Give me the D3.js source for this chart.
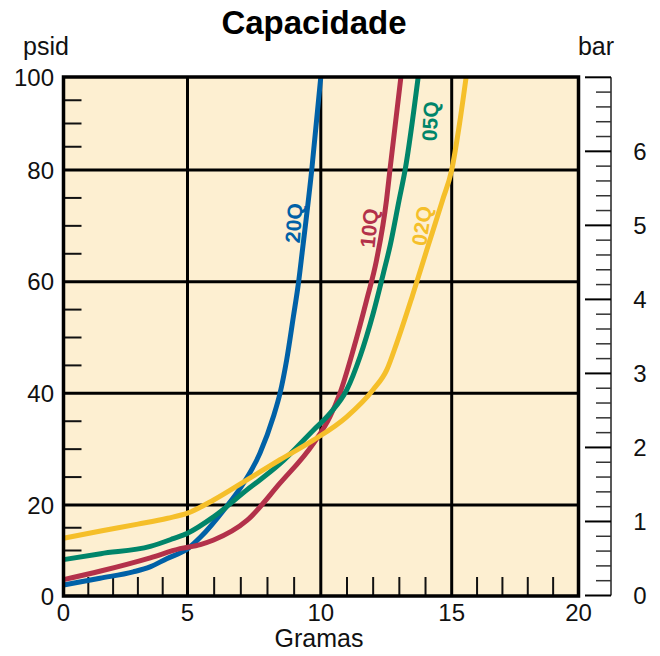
<!DOCTYPE html>
<html>
<head>
<meta charset="utf-8">
<script src="https://cdn.jsdelivr.net/npm/d3@7"></script>
<style>
  html, body { margin: 0; padding: 0; background: #ffffff; }
  svg { display: block; font-family: "Liberation Sans", Arial, Helvetica, sans-serif; }
</style>
</head>
<body>
<svg id="chart" width="660" height="656"></svg>
<script>
// ---- data (grams vs psid) ----
const title = "Capacidade";
const xLabel = "Gramas";
const yLabelLeft = "psid";
const yLabelRight = "bar";

const xTicksMajor = [0, 5, 10, 15, 20];
const xTicksMinor = [1, 2, 3, 4, 6, 7, 8, 9, 11, 12, 13, 14, 16, 17, 18, 19];
const yTicksMajor = [0, 20, 40, 60, 80, 100];
const yTicksMinor = [10, 15, 25, 30, 35, 45, 50, 55, 65, 70, 75, 85, 90, 95];
const barTicksMajor = [0, 1, 2, 3, 4, 5, 6, 7];
const barTickLabels = [0, 1, 2, 3, 4, 5, 6];

const series20Q = [[0,2.4],[1.47,3.9],[2.81,5.3],[3.49,6.4],[4.16,8.2],[5.03,10.5],[5.5,13.0],[6.4,19.2],[7.1,23.9],[7.72,29.3],[8.22,35.8],[8.47,40],[8.72,46],[8.97,53.7],[9.16,59.7],[9.3,65.2],[9.66,80],[10.0,100]];
const series10Q = [[0,3.6],[1.5,5.5],[3.5,8.4],[4.7,10.4],[5.48,11.3],[5.98,12.3],[7.23,16.6],[8.47,23.9],[9.72,31.0],[10.35,35.8],[10.73,40],[11.24,47.8],[11.75,56.7],[12.13,63.9],[12.51,74.6],[12.64,80],[13.06,100]];
const series05Q = [[0,8.0],[1.5,9.3],[3.5,10.9],[4.42,12.6],[5,13.8],[5.98,17.4],[7.23,22.7],[8.47,27.4],[9.72,33.4],[10.35,36.4],[10.99,40.6],[11.5,46.6],[12.0,54.3],[12.39,61.5],[12.65,66.5],[12.99,74.6],[13.22,80],[13.72,100]];
const series02Q = [[0,12.7],[1.5,14.3],[3,15.8],[4.2,17.1],[5,18.2],[5.98,20.9],[7.23,24.5],[8.47,28.1],[9.72,31.6],[10.99,35.8],[11.99,40.6],[12.52,44.2],[12.9,49.0],[13.5,57.5],[14.05,65.7],[14.65,74.6],[15.0,80],[15.31,90],[15.57,100]];

const seriesNames = ["20Q", "10Q", "05Q", "02Q"];
const seriesData = [series20Q, series10Q, series05Q, series02Q];
const seriesColors = ["#0061a7", "#b3314a", "#00856a", "#f5bf2a"];
// label anchor in data units (grams, psid) and rotation
const labelX = [8.98, 11.84, 14.17, 13.85];
const labelY = [70.5, 69.6, 90.5, 70.0];
const labelAngle = [-86, -84, -87, -81];

// ---- scales ----
const x = d3.scaleLinear().domain([0, 5, 10, 15, 20]).range([63.5, 187.5, 320.8, 451.7, 578.5]);
const y = d3.scaleLinear().domain([0, 20, 40, 60, 80, 100]).range([596, 505, 393.3, 281.7, 170, 77]);
const yBar = d3.scaleLinear().domain([0, 7]).range([595.5, 77.3]);

const svg = d3.select("#chart");

// background
svg.append("rect")
  .attr("x", x(0)).attr("y", y(100))
  .attr("width", x(20) - x(0)).attr("height", y(0) - y(100))
  .attr("fill", "#fdefd1");

// grid
const grid = svg.append("g").attr("stroke", "#000").attr("stroke-width", 3);
grid.selectAll("line.vx").data(xTicksMajor.slice(1, -1)).join("line")
  .attr("x1", d => x(d)).attr("x2", d => x(d)).attr("y1", y(0)).attr("y2", y(100));
grid.selectAll("line.hy").data(yTicksMajor.slice(1, -1)).join("line")
  .attr("class", "hy")
  .attr("x1", x(0)).attr("x2", x(20)).attr("y1", d => y(d)).attr("y2", d => y(d));

// minor ticks inside
const minor = svg.append("g").attr("stroke", "#111").attr("stroke-width", 2);
minor.selectAll("line.mx").data(xTicksMinor).join("line")
  .attr("x1", d => x(d)).attr("x2", d => x(d)).attr("y1", y(0)).attr("y2", y(0) - 19);
minor.selectAll("line.my").data(yTicksMinor).join("line")
  .attr("class", "my")
  .attr("x1", x(0)).attr("x2", x(0) + 18).attr("y1", d => y(d)).attr("y2", d => y(d));

// curves
const line = d3.line().x(d => x(d[0])).y(d => y(d[1])).curve(d3.curveMonotoneX);
svg.append("g").selectAll("path").data(seriesData).join("path")
  .attr("d", d => line(d))
  .attr("fill", "none")
  .attr("stroke", (d, i) => seriesColors[i])
  .attr("stroke-width", 5)
  .attr("stroke-linejoin", "round");

// curve labels
svg.append("g").selectAll("text").data(seriesNames).join("text")
  .attr("transform", (d, i) => `translate(${x(labelX[i])},${y(labelY[i])}) rotate(${labelAngle[i]})`)
  .attr("text-anchor", "middle")
  .attr("dy", "0.36em")
  .attr("font-weight", "bold")
  .attr("font-size", 21)
  .attr("fill", (d, i) => seriesColors[i])
  .text(d => d);

// plot border
svg.append("rect")
  .attr("x", x(0)).attr("y", y(100))
  .attr("width", x(20) - x(0)).attr("height", y(0) - y(100))
  .attr("fill", "none").attr("stroke", "#000").attr("stroke-width", 3.5);

// left tick labels
svg.append("g").selectAll("text").data(yTicksMajor).join("text")
  .attr("x", 54).attr("y", d => y(d)).attr("dy", "0.36em")
  .attr("text-anchor", "end").attr("font-size", 24).attr("fill", "#111")
  .text(d => d);

// bottom tick labels
svg.append("g").selectAll("text").data(xTicksMajor).join("text")
  .attr("x", d => x(d)).attr("y", 621)
  .attr("text-anchor", "middle").attr("font-size", 24).attr("fill", "#111")
  .text(d => d);

// right bar axis
const barAxisX = 611;
const rAxis = svg.append("g");
rAxis.append("line").attr("x1", barAxisX).attr("x2", barAxisX)
  .attr("y1", yBar(0)).attr("y2", yBar(7)).attr("stroke", "#222").attr("stroke-width", 1.5);
const barMinor = d3.range(0, 36).map(i => i / 5).filter(v => Math.abs(v - Math.round(v)) > 1e-6);
rAxis.selectAll("line.bm").data(barMinor).join("line")
  .attr("class", "bm")
  .attr("x1", barAxisX - 15).attr("x2", barAxisX)
  .attr("y1", d => yBar(d)).attr("y2", d => yBar(d))
  .attr("stroke", "#333").attr("stroke-width", 1.5);
rAxis.selectAll("line.bM").data(barTicksMajor).join("line")
  .attr("class", "bM")
  .attr("x1", barAxisX - 26).attr("x2", barAxisX)
  .attr("y1", d => yBar(d)).attr("y2", d => yBar(d))
  .attr("stroke", "#000").attr("stroke-width", 2);
rAxis.selectAll("text").data(barTickLabels).join("text")
  .attr("x", 640).attr("y", d => yBar(d)).attr("dy", "0.36em")
  .attr("text-anchor", "middle").attr("font-size", 24).attr("fill", "#111")
  .text(d => d);

// titles
svg.append("text").attr("x", 314).attr("y", 34)
  .attr("text-anchor", "middle").attr("font-weight", "bold").attr("font-size", 33)
  .text(title);
svg.append("text").attr("x", 46).attr("y", 55)
  .attr("text-anchor", "middle").attr("font-size", 25).attr("fill", "#111")
  .text(yLabelLeft);
svg.append("text").attr("x", 596).attr("y", 55)
  .attr("text-anchor", "middle").attr("font-size", 25).attr("fill", "#111")
  .text(yLabelRight);
svg.append("text").attr("x", 319).attr("y", 647)
  .attr("text-anchor", "middle").attr("font-size", 25).attr("fill", "#111")
  .text(xLabel);
</script>
</body>
</html>
